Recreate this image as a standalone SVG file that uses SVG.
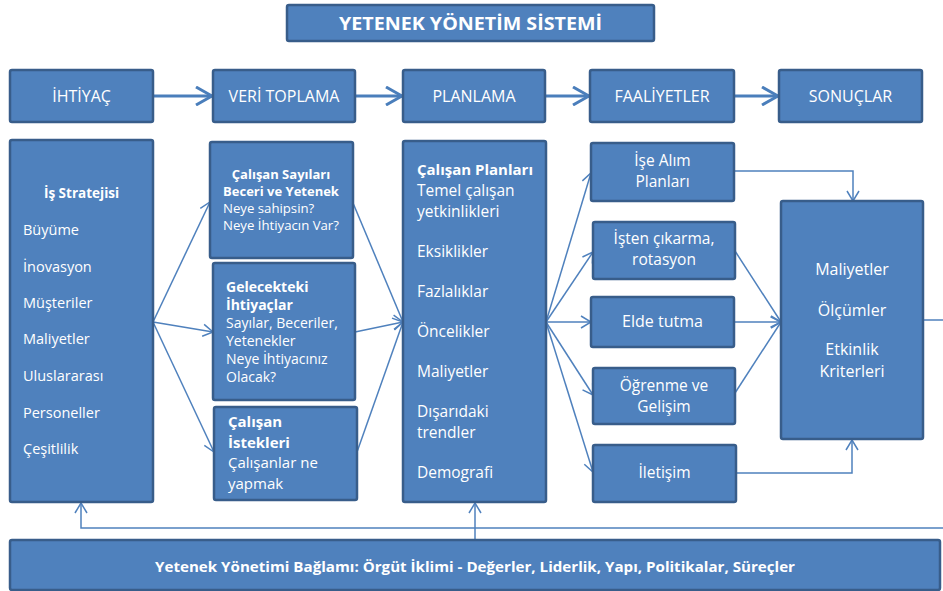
<svg xmlns="http://www.w3.org/2000/svg" width="943" height="591" viewBox="0 0 943 591">
<style>
.box{fill:#4F81BD;stroke:#385D8A;stroke-width:2.5}
.t{font-family:"Open Sans","Noto Sans",sans-serif;fill:#fff}
.b{font-weight:bold}
.c{text-anchor:middle}
.thick{stroke:#4A7EBB;stroke-width:3;fill:none;marker-end:url(#ah)}
.thin{stroke:#4F81BD;stroke-width:1.5;fill:none}
.arr{marker-end:url(#as)}
</style>
<defs>
<marker id="ah" viewBox="0 0 20 20" refX="18" refY="10" markerWidth="20" markerHeight="20" markerUnits="userSpaceOnUse" orient="auto">
<path d="M2,1 L18,10 L2,19" fill="none" stroke="#4A7EBB" stroke-width="3"/>
</marker>
<marker id="as" viewBox="0 0 12 14" refX="11" refY="7" markerWidth="12" markerHeight="14" markerUnits="userSpaceOnUse" orient="auto">
<path d="M1,1 L11,7 L1,13" fill="none" stroke="#4F81BD" stroke-width="1.5"/>
</marker>
</defs>

<g id="connectors">
<line class="thick" x1="153" y1="96" x2="212" y2="96"/>
<line class="thick" x1="355" y1="96" x2="402" y2="96"/>
<line class="thick" x1="545" y1="96" x2="589" y2="96"/>
<line class="thick" x1="734" y1="96" x2="778" y2="96"/>

<line class="thin arr" x1="153" y1="322" x2="210" y2="202"/>
<line class="thin arr" x1="153" y1="322" x2="213" y2="332"/>
<line class="thin arr" x1="153" y1="322" x2="214" y2="452"/>

<line class="thin arr" x1="353" y1="203" x2="403" y2="322"/>
<line class="thin arr" x1="355" y1="332" x2="403" y2="322"/>
<line class="thin arr" x1="357" y1="452" x2="403" y2="322"/>

<line class="thin arr" x1="546" y1="322" x2="591" y2="173"/>
<line class="thin arr" x1="546" y1="322" x2="593" y2="252"/>
<line class="thin arr" x1="546" y1="322" x2="591" y2="322"/>
<line class="thin arr" x1="546" y1="322" x2="593" y2="395"/>
<line class="thin arr" x1="546" y1="322" x2="593" y2="472"/>

<polyline class="thin arr" points="734,171 853,171 853,201"/>
<line class="thin arr" x1="735" y1="251" x2="781" y2="322"/>
<line class="thin arr" x1="735" y1="322" x2="781" y2="322"/>
<line class="thin arr" x1="735" y1="393" x2="781" y2="322"/>
<polyline class="thin arr" points="736,473 852,473 852,440"/>

<line class="thin" x1="923" y1="320" x2="943" y2="320"/>
<polyline class="thin arr" points="943,528 81,528 81,503"/>
<line class="thin arr" x1="475" y1="540" x2="475" y2="503"/>
</g>

<g id="title">
<rect class="box" x="287" y="5" width="367" height="36" rx="2"/>
<text class="t b c" x="470.5" y="30" font-size="18.5" textLength="263" lengthAdjust="spacingAndGlyphs">YETENEK YÖNETİM SİSTEMİ</text>
</g>

<g id="ihtiyac">
<rect class="box" x="10" y="70" width="143" height="52" rx="2"/>
<text class="t c" x="81.5" y="102" font-size="16">İHTİYAÇ</text>
</g>
<g id="veri-toplama">
<rect class="box" x="213" y="70" width="142" height="52" rx="2"/>
<text class="t c" x="284" y="102" font-size="16">VERİ TOPLAMA</text>
</g>
<g id="planlama">
<rect class="box" x="403" y="70" width="142" height="52" rx="2"/>
<text class="t c" x="474" y="102" font-size="16">PLANLAMA</text>
</g>
<g id="faaliyetler">
<rect class="box" x="590" y="70" width="144" height="52" rx="2"/>
<text class="t c" x="662" y="102" font-size="16">FAALİYETLER</text>
</g>
<g id="sonuclar">
<rect class="box" x="779" y="70" width="143" height="52" rx="2"/>
<text class="t c" x="850.5" y="102" font-size="16">SONUÇLAR</text>
</g>

<g id="is-stratejisi">
<rect class="box" x="10" y="140" width="143" height="362" rx="2"/>
<text class="t b c" x="81.5" y="198" font-size="13.5">İş Stratejisi</text>
<text class="t" x="23" y="235" font-size="14.5">Büyüme</text>
<text class="t" x="23" y="272" font-size="14.5">İnovasyon</text>
<text class="t" x="23" y="308" font-size="14.5">Müşteriler</text>
<text class="t" x="23" y="344" font-size="14.5">Maliyetler</text>
<text class="t" x="23" y="381" font-size="14.5">Uluslararası</text>
<text class="t" x="23" y="418" font-size="14.5">Personeller</text>
<text class="t" x="23" y="454" font-size="14.5">Çeşitlilik</text>
</g>

<g id="calisan-sayilari">
<rect class="box" x="210" y="142" width="143" height="116" rx="2"/>
<text class="t b c" x="281" y="179" font-size="13">Çalışan Sayıları</text>
<text class="t b c" x="281" y="196" font-size="13">Beceri ve Yetenek</text>
<text class="t" x="223" y="213" font-size="13.2">Neye sahipsin?</text>
<text class="t" x="223" y="230" font-size="13.2">Neye İhtiyacın Var?</text>
</g>

<g id="gelecekteki">
<rect class="box" x="213" y="263" width="142" height="137" rx="2"/>
<text class="t b" x="226" y="292" font-size="14">Gelecekteki</text>
<text class="t b" x="226" y="310" font-size="14">İhtiyaçlar</text>
<text class="t" x="226" y="328" font-size="14">Sayılar, Beceriler,</text>
<text class="t" x="226" y="346" font-size="14">Yetenekler</text>
<text class="t" x="226" y="364" font-size="14">Neye İhtiyacınız</text>
<text class="t" x="226" y="382" font-size="14">Olacak?</text>
</g>

<g id="calisan-istekleri">
<rect class="box" x="214" y="407" width="143" height="93" rx="2"/>
<text class="t b" x="228" y="427" font-size="15">Çalışan</text>
<text class="t b" x="228" y="448" font-size="15">İstekleri</text>
<text class="t" x="228" y="468" font-size="15">Çalışanlar ne</text>
<text class="t" x="228" y="489" font-size="15">yapmak</text>
</g>

<g id="calisan-planlari">
<rect class="box" x="403" y="141" width="143" height="361" rx="2"/>
<text class="t b" x="417" y="175" font-size="15">Çalışan Planları</text>
<text class="t" x="417" y="196" font-size="15.5">Temel çalışan</text>
<text class="t" x="417" y="217" font-size="15.5">yetkinlikleri</text>
<text class="t" x="417" y="257" font-size="15.5">Eksiklikler</text>
<text class="t" x="417" y="297" font-size="15.5">Fazlalıklar</text>
<text class="t" x="417" y="337" font-size="15.5">Öncelikler</text>
<text class="t" x="417" y="377" font-size="15.5">Maliyetler</text>
<text class="t" x="417" y="417" font-size="15.5">Dışarıdaki</text>
<text class="t" x="417" y="438" font-size="15.5">trendler</text>
<text class="t" x="417" y="478" font-size="15.5">Demografi</text>
</g>

<g id="ise-alim">
<rect class="box" x="591" y="143" width="143" height="58" rx="2"/>
<text class="t c" x="662.5" y="166" font-size="15.5">İşe Alım</text>
<text class="t c" x="662.5" y="187" font-size="15.5">Planları</text>
</g>
<g id="isten-cikarma">
<rect class="box" x="593" y="222" width="142" height="57" rx="2"/>
<text class="t c" x="664" y="244" font-size="15.5">İşten çıkarma,</text>
<text class="t c" x="664" y="265" font-size="15.5">rotasyon</text>
</g>
<g id="elde-tutma">
<rect class="box" x="591" y="297" width="143" height="50" rx="2"/>
<text class="t c" x="662.5" y="327" font-size="16">Elde tutma</text>
</g>
<g id="ogrenme">
<rect class="box" x="593" y="368" width="142" height="56" rx="2"/>
<text class="t c" x="664" y="391" font-size="15.5">Öğrenme ve</text>
<text class="t c" x="664" y="412" font-size="15.5">Gelişim</text>
</g>
<g id="iletisim">
<rect class="box" x="593" y="445" width="143" height="57" rx="2"/>
<text class="t c" x="664.5" y="478" font-size="15.5">İletişim</text>
</g>

<g id="sonuc-kriterleri">
<rect class="box" x="781" y="201" width="142" height="238" rx="2"/>
<text class="t c" x="852" y="275" font-size="16">Maliyetler</text>
<text class="t c" x="852" y="316" font-size="16">Ölçümler</text>
<text class="t c" x="852" y="355" font-size="16">Etkinlik</text>
<text class="t c" x="852" y="377" font-size="16">Kriterleri</text>
</g>

<g id="baglam">
<rect class="box" x="10" y="540" width="930" height="50" rx="2"/>
<text class="t b c" x="475" y="572" font-size="15" textLength="640" lengthAdjust="spacingAndGlyphs">Yetenek Yönetimi Bağlamı: Örgüt İklimi - Değerler, Liderlik, Yapı, Politikalar, Süreçler</text>
</g>
</svg>
